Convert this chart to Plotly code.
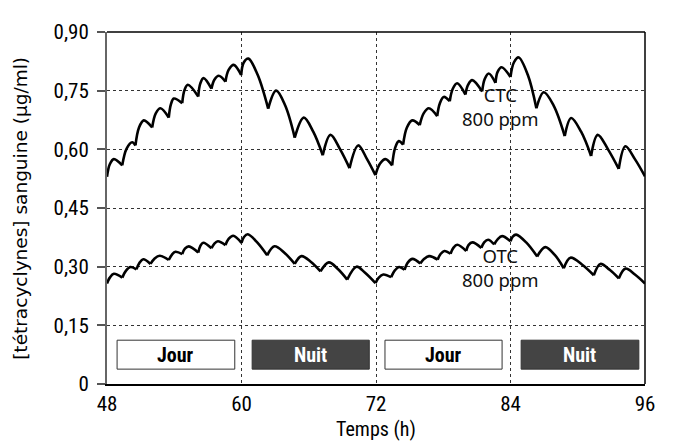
import plotly.graph_objects as go

# ---------------- data ----------------
# kind: c = trough (meal), r = point on the rise, p = peak, m = point on the decline
ctc_t = [48.00, 48.25, 48.61, 49.36, 49.75, 50.25, 50.54, 50.85, 51.28, 52.03, 52.35, 52.77,
         53.51, 53.70, 53.96, 54.71, 54.92, 55.21, 56.14, 56.32, 56.61, 57.32, 57.58, 57.97,
         58.57, 58.85, 59.31, 59.97, 60.20, 60.62, 61.45, 62.38, 63.09, 63.90, 64.75, 65.56,
         66.40, 67.25, 67.94, 68.80, 69.64, 70.41, 71.20, 71.95,
         72.35, 72.84, 73.44, 73.70, 74.03, 74.42, 74.75, 75.23, 75.90, 76.25, 76.71, 77.46,
         77.70, 78.05, 78.58, 78.85, 79.24, 79.98, 80.20, 80.58, 81.47, 81.70, 82.06, 82.66,
         82.85, 83.20, 84.00, 84.30, 84.73, 85.55, 86.31, 86.97, 87.85, 88.84, 89.41, 90.30,
         91.19, 91.78, 92.70, 93.66, 94.25, 95.10, 96.00]
ctc_v = [0.530, 0.562, 0.575, 0.559, 0.602, 0.618, 0.610, 0.655, 0.674, 0.656, 0.692, 0.705,
         0.681, 0.715, 0.730, 0.718, 0.752, 0.765, 0.735, 0.768, 0.782, 0.755, 0.778, 0.788,
         0.773, 0.803, 0.816, 0.790, 0.822, 0.832, 0.790, 0.704, 0.750, 0.712, 0.630, 0.681,
         0.645, 0.585, 0.637, 0.600, 0.552, 0.610, 0.575, 0.534,
         0.563, 0.575, 0.559, 0.603, 0.621, 0.612, 0.655, 0.674, 0.662, 0.692, 0.705, 0.685,
         0.718, 0.734, 0.723, 0.755, 0.769, 0.740, 0.764, 0.777, 0.748, 0.780, 0.794, 0.770,
         0.798, 0.810, 0.785, 0.822, 0.835, 0.790, 0.705, 0.746, 0.712, 0.634, 0.680, 0.645,
         0.583, 0.637, 0.600, 0.550, 0.608, 0.575, 0.531]
ctc_kind = ("crpc" "rpc" "rpc" "rpc" "rpc" "rpc" "rpc" "rpc" "rpc" "rpmc" "pmc" "pmc" "pmc" "pmc"
            "rpc" "rpc" "rpc" "rpc" "rpc" "rpc" "rpc" "rpc" "rpc" "rpmc" "pmc" "pmc" "pmc" "pmc")

otc_t = [48.00, 48.25, 48.61, 49.36, 49.70, 50.10, 50.63, 50.90, 51.23, 51.88, 52.25, 52.71,
         53.51, 53.80, 54.11, 54.71, 54.95, 55.30, 56.14, 56.33, 56.58, 57.32, 57.58, 57.89,
         58.57, 58.85, 59.26, 60.00, 60.22, 60.56, 61.40, 62.29, 62.94, 63.85, 64.75, 65.35,
         66.20, 67.05, 67.79, 68.60, 69.43, 70.26, 71.00, 71.95,
         72.25, 72.65, 73.35, 73.70, 74.05, 74.55, 74.85, 75.25, 75.95, 76.30, 76.75, 77.50,
         77.78, 78.10, 78.65, 78.90, 79.25, 80.05, 80.25, 80.60, 81.40, 81.65, 82.00, 82.55,
         82.85, 83.25, 84.00, 84.20, 84.50, 85.40, 86.38, 87.10, 87.95, 88.75, 89.35, 90.40,
         91.43, 92.02, 92.85, 93.66, 94.25, 95.10, 96.00]
otc_v = [0.257, 0.272, 0.282, 0.272, 0.290, 0.299, 0.293, 0.310, 0.319, 0.307, 0.321, 0.328,
         0.317, 0.331, 0.338, 0.332, 0.346, 0.352, 0.336, 0.353, 0.361, 0.347, 0.359, 0.365,
         0.355, 0.371, 0.379, 0.361, 0.376, 0.383, 0.362, 0.329, 0.352, 0.335, 0.307, 0.327,
         0.312, 0.288, 0.311, 0.294, 0.267, 0.300, 0.285, 0.258,
         0.272, 0.280, 0.273, 0.291, 0.299, 0.292, 0.311, 0.320, 0.308, 0.320, 0.327, 0.318,
         0.333, 0.340, 0.333, 0.348, 0.356, 0.340, 0.355, 0.362, 0.348, 0.362, 0.369, 0.357,
         0.370, 0.378, 0.365, 0.377, 0.382, 0.362, 0.326, 0.350, 0.330, 0.296, 0.323, 0.305,
         0.278, 0.307, 0.292, 0.270, 0.295, 0.280, 0.257]
otc_kind = ctc_kind

period_labels = ["Jour", "Nuit", "Jour", "Nuit"]
period_start = [48.9, 60.95, 72.8, 84.95]
period_end = [59.4, 71.4, 83.25, 95.45]
period_low, period_high = 0.038, 0.112

x_ticks = [48, 60, 72, 84, 96]
y_ticks = [0, 0.15, 0.30, 0.45, 0.60, 0.75, 0.90]
y_tick_text = ["0", "0,15", "0,30", "0,45", "0,60", "0,75", "0,90"]

series_labels = ["CTC<br>800 ppm", "OTC<br>800 ppm"]
label_pos_t = [83.1, 83.1]
label_pos_v = [0.710, 0.298]

NARROW = "Liberation Sans Narrow, Roboto Condensed, Arial Narrow, Roboto, sans-serif"
WIDE = "DejaVu Sans, Verdana, sans-serif"


def scallops(t, v, kind):
    """Split the curve at every trough so each arch is smoothed on its own."""
    xs, ys = [], []
    seg_x, seg_y = [], []
    for ti, vi, k in zip(t, v, kind):
        seg_x.append(ti)
        seg_y.append(vi)
        if k == "c" and len(seg_x) > 1:
            xs += seg_x + [None]
            ys += seg_y + [None]
            seg_x, seg_y = [ti], [vi]
    if len(seg_x) > 1:
        xs += seg_x
        ys += seg_y
    return xs, ys


fig = go.Figure()
for t, v, k in [(ctc_t, ctc_v, ctc_kind), (otc_t, otc_v, otc_kind)]:
    xs, ys = scallops(t, v, k)
    fig.add_trace(go.Scatter(x=xs, y=ys, mode="lines", connectgaps=False,
                             line=dict(color="black", width=2.6, shape="spline", smoothing=1),
                             hoverinfo="skip", showlegend=False))

for lab, x0, x1 in zip(period_labels, period_start, period_end):
    night = lab == "Nuit"
    fig.add_shape(type="rect", xref="x", yref="y", x0=x0, x1=x1, y0=period_low, y1=period_high,
                  line=dict(color="#333333", width=1),
                  fillcolor="#444444" if night else "white", layer="above")
    fig.add_annotation(x=(x0 + x1) / 2, y=(period_low + period_high) / 2, text="<b>" + lab + "</b>",
                       showarrow=False, xanchor="center", yanchor="middle",
                       font=dict(family=NARROW, size=20, color="white" if night else "black"))

for txt, xt, yv in zip(series_labels, label_pos_t, label_pos_v):
    fig.add_annotation(x=xt, y=yv, text=txt, showarrow=False, xanchor="center", yanchor="middle",
                       font=dict(family="Noto Sans, sans-serif", size=18.5, color="#111111"))

# frame: top and right borders
fig.add_shape(type="line", xref="paper", yref="paper", x0=0, x1=1, y0=1, y1=1,
              line=dict(color="black", width=1.5))
fig.add_shape(type="line", xref="paper", yref="paper", x0=1, x1=1, y0=0, y1=1,
              line=dict(color="black", width=1.5))

fig.add_annotation(xref="paper", yref="paper", x=-0.162, y=0.5, textangle=-90,
                   text="[tétracyclynes] sanguine (µg/ml)", showarrow=False,
                   xanchor="center", yanchor="middle",
                   font=dict(family=WIDE, size=18.5, color="black"))
fig.add_annotation(xref="paper", yref="paper", x=0.5, y=-0.127, text="Temps (h)",
                   showarrow=False, xanchor="center", yanchor="middle",
                   font=dict(family=NARROW, size=20, color="black"))

fig.update_xaxes(range=[48, 96], tickvals=x_ticks, ticks="", showline=True,
                 linecolor="black", linewidth=2, showgrid=True, gridcolor="#333333",
                 griddash="dot", gridwidth=1, zeroline=False,
                 tickfont=dict(family=NARROW, size=21, color="black"))
fig.update_yaxes(range=[0, 0.9], tickvals=y_ticks, ticktext=y_tick_text, ticks="outside",
                 ticklen=8, tickcolor="#555555", tickwidth=1.5, showline=True,
                 linecolor="#666666", linewidth=2, showgrid=True, gridcolor="#333333",
                 griddash="dot", gridwidth=1, zeroline=False, ticklabelstandoff=4,
                 tickfont=dict(family=NARROW, size=21, color="black"))

# the page adds an 8 px body margin, so the figure is made 8 px smaller
fig.update_layout(width=667, height=433, margin=dict(l=99, r=30, t=12, b=57),
                  plot_bgcolor="white", paper_bgcolor="white")

fig.write_html("out.html")
